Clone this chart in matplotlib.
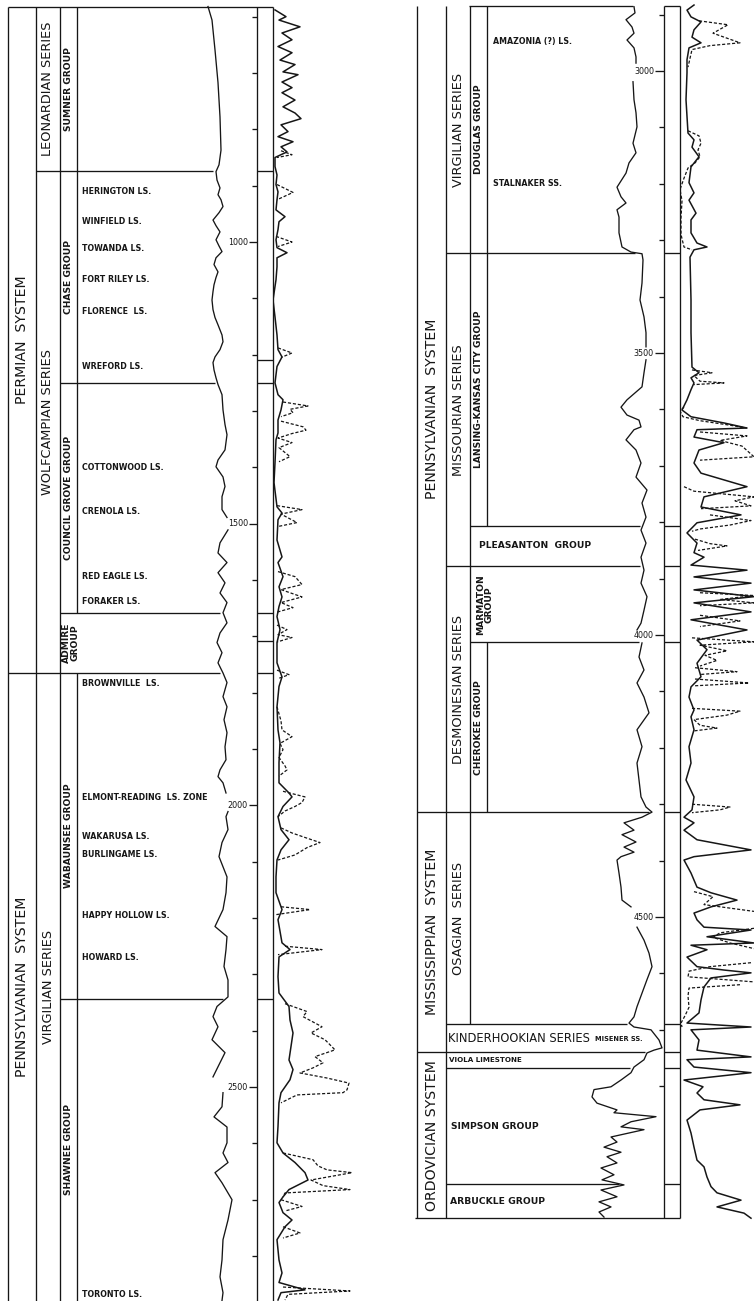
import numpy as np
import matplotlib
matplotlib.use("Agg")
import matplotlib.pyplot as plt

plt.rcParams['font.family'] = ['DejaVu Sans']
NAN = np.nan

# ---------------- stratigraphic units (depth in feet) ----------------
left_top, left_base = 582, 2880
right_top, right_base = 2885, 5034

left_systems = ["PERMIAN  SYSTEM", "PENNSYLVANIAN  SYSTEM"]
left_system_tops = [582, 1765]
left_system_bases = [1765, 2880]

left_series = ["LEONARDIAN SERIES", "WOLFCAMPIAN SERIES", "VIRGILIAN SERIES"]
left_series_tops = [582, 874, 1765]
left_series_bases = [874, 1765, 2880]

left_groups = ["SUMNER GROUP", "CHASE GROUP", "COUNCIL GROVE GROUP", "ADMIRE\nGROUP",
               "WABAUNSEE GROUP", "SHAWNEE GROUP"]
left_group_tops = [582, 874, 1250, 1658, 1765, 2343]
left_group_bases = [874, 1250, 1658, 1765, 2343, 2880]

left_formations = ["HERINGTON LS.", "WINFIELD LS.", "TOWANDA LS.", "FORT RILEY LS.",
                   "FLORENCE  LS.", "WREFORD LS.", "COTTONWOOD LS.", "CRENOLA LS.",
                   "RED EAGLE LS.", "FORAKER LS.", "BROWNVILLE  LS.",
                   "ELMONT-READING  LS. ZONE", "WAKARUSA LS.", "BURLINGAME LS.",
                   "HAPPY HOLLOW LS.", "HOWARD LS.", "TORONTO LS."]
left_formation_depths = [911, 964, 1012, 1067, 1124, 1221, 1401, 1479, 1594, 1639, 1784,
                         1986, 2056, 2088, 2196, 2270, 2869]

left_boundary_depths = [874, 1250, 1658, 1765, 2343]
left_boundary_level = ["series", "group", "group", "system", "group"]
left_track_marks = [874, 1209, 1250, 1658, 1708, 1765, 2343]

right_systems = ["PENNSYLVANIAN  SYSTEM", "MISSISSIPPIAN  SYSTEM", "ORDOVICIAN SYSTEM"]
right_system_tops = [2885, 4314, 4740]
right_system_bases = [4314, 4740, 5034]

right_series = ["VIRGILIAN SERIES", "MISSOURIAN SERIES", "DESMOINESIAN SERIES", "OSAGIAN  SERIES"]
right_series_tops = [2885, 3323, 3878, 4314]
right_series_bases = [3323, 3878, 4314, 4690]

right_groups = ["DOUGLAS GROUP", "LANSING-KANSAS CITY GROUP", "MARMATON\nGROUP", "CHEROKEE GROUP"]
right_group_tops = [2885, 3323, 3878, 4013]
right_group_bases = [3323, 3806, 4013, 4314]

right_flat_units = ["PLEASANTON  GROUP", "KINDERHOOKIAN SERIES", "VIOLA LIMESTONE",
                    "SIMPSON GROUP", "ARBUCKLE GROUP"]
right_flat_tops = [3806, 4690, 4740, 4768, 4974]
right_flat_bases = [3878, 4740, 4768, 4974, 5034]

right_formations = ["AMAZONIA (?) LS.", "STALNAKER SS.", "MISENER SS."]
right_formation_depths = [2947, 3200, 4716]

right_boundary_depths = [3323, 3806, 3878, 4013, 4314, 4690, 4740, 4768, 4974]
right_boundary_level = ["series", "group", "series", "group", "system", "series", "system",
                        "series", "series"]
right_track_marks = [3323, 3806, 3878, 4013, 4314, 4690, 4740, 4768, 4974]

left_depth_labels = [1000, 1500, 2000, 2500]
right_depth_labels = [3000, 3500, 4000, 4500]

# ---------------- log curves (depth ft, deflection in track units) ----------------
left_sp_depth = [
    582, 606, 659, 717, 778, 837, 863, 875, 890, 904,
    916, 925, 937, 948, 961, 971, 982, 996, 1007, 1017,
    1028, 1040, 1053, 1063, 1076, 1088, 1103, 1120, 1134, 1147,
    1165, 1177, 1191, 1204, 1214, 1227, 1241, 1253, 1271, 1298,
    1324, 1342, 1369, 1387, 1399, 1417, 1434, 1452, 1475, 1489,
    NAN,
    1511, 1534, 1552, 1569, 1587, 1605, 1623, 1640, 1658, 1676,
    1694, 1711, 1729, 1747, 1765, 1782, 1807, 1825, 1848, 1871,
    1896, 1919, 1937, 1949, 1960, 1978,
    NAN,
    2011, 2020, 2043, 2066, 2091, 2127, 2155, 2185, 2215, 2233,
    2256, 2286, 2310, 2340, 2357, 2375, 2393, 2416, 2439, 2464,
    2482,
    NAN,
    2510, 2535, 2553, 2571, 2599, 2617, 2634, 2652, 2670, 2700,
    2736, 2771, 2807, 2837, 2865, 2879]
left_sp_value = [
    8, 12, 15, 18, 20, 21, 19, 16, 17, 20,
    18, 21, 23, 19, 13, 16, 20, 16, 19, 22,
    16, 14, 18, 16, 14, 13, 12, 13, 15, 18,
    22, 23, 20, 15, 13, 14, 16, 18, 22, 23,
    25, 27, 25, 18, 16, 23, 25, 22, 22, 27,
    NAN,
    28, 20, 18, 27, 18, 25, 20, 27, 23, 27,
    20, 17, 22, 18, 23, 27, 23, 27, 24, 27,
    25, 26, 20, 18, 23, 26,
    NAN,
    28, 26, 28, 22, 19, 27, 26, 23, 15, 27,
    26, 24, 28, 28, 17, 13, 18, 12, 25, 18,
    13,
    NAN,
    23, 22, 14, 27, 27, 23, 28, 15, 22, 32,
    28, 23, 22, 20, 23, 22]

left_res_depth = [
    588, 600, 606, 618, 629, 641, 653, 664, 677, 685,
    698, 703, 716, 726, 735, 748, 760, 771, 781, 792,
    804, 813, 822, 831, 840, 850, 866, 881, 898, 911,
    925, 943, 955, 964, 978, 996, 1010, 1019, 1028, 1044,
    1067, 1103, 1133, 1165, 1191, 1204, 1221, 1250, 1271, 1280,
    1298, 1316, 1339, 1351, 1392, 1427, 1470, 1481, 1493, 1529,
    1559, 1569, 1594, 1612, 1630, 1647, 1665, 1688, 1711, 1747,
    1772, 1789, 1825, 1866, 1889, 1924, 1960, 1978, 1985, 2002,
    2020, 2043, 2061, 2079, 2097, 2127, 2155, 2185, 2203, 2244,
    2256, 2269, 2304, 2333, 2357, 2381, 2404, 2428, 2452, 2469,
    2487, 2510, 2528, 2570, 2599, 2617, 2634, 2652, 2665, 2682,
    2695, 2705, 2723, 2736, 2748, 2771, 2807, 2830, 2847, 2860,
    2865, 2878]
left_res_value = [
    2, 13, 6, 27, 9, 19, 5, 19, 7, 22,
    10, 25, 9, 19, 9, 22, 10, 22, 28, 8,
    15, 5, 20, 8, 14, 2, 2, 4, 3, 5,
    4, 3, 12, 6, 5, 3, 4, 14, 4, 4,
    3, 0, 2, 4, 5, 9, 4, 2, 5, 10,
    8, 5, 5, 3, 2, 1, 4, 9, 5, 4,
    9, 5, 10, 6, 9, 6, 4, 7, 4, 4,
    9, 6, 4, 5, 7, 6, 6, 16, 19, 10,
    5, 8, 16, 8, 4, 3, 3, 9, 5, 9,
    17, 6, 5, 6, 16, 17, 20, 18, 16, 20,
    17, 8, 6, 5, 4, 10, 22, 32, 35, 16,
    10, 6, 10, 19, 12, 4, 6, 9, 6, 32,
    8, 5]

left_res2_depth = [
    838, 845, 850, NAN,
    898, 912, 925, NAN,
    990, 1000, 1008, NAN,
    1188, 1197, 1205, NAN,
    1284, 1291, 1297, 1303, 1310, NAN,
    1318, 1328, 1334, 1340, 1348, 1356, 1365, 1381, 1390, NAN,
    1468, 1475, 1483, 1498, 1505, NAN,
    1585, 1594, 1608, 1617, 1630, 1640, 1649, 1657, NAN,
    1680, 1688, 1697, 1702, 1710, NAN,
    1760, 1768, 1775, NAN,
    1825, 1850, 1866, 1878, 1890, 1901, 1915, 1930, 1937, 1948, NAN,
    1975, 1985, 1995, 2002, 2010, 2020, NAN,
    2040, 2049, 2057, 2066, 2075, 2088, 2097, NAN,
    2180, 2185, 2194, NAN,
    2250, 2256, 2265, NAN,
    2352, 2366, 2375, 2393, 2404, 2416, 2434, 2446, 2457, 2466, 2475, 2484, 2493, 2505,
    2510, 2514, 2528, NAN,
    2617, 2629, 2640, 2647, 2652, 2658, 2665, 2675, 2682, 2688, 2695, NAN,
    2700, 2712, 2720, NAN,
    2748, 2759, 2768, NAN,
    2855, 2862, 2868, 2878]
left_res2_value = [
    8, 19, 4, NAN,
    4, 20, 4, NAN,
    3, 19, 5, NAN,
    5, 19, 8, NAN,
    10, 35, 17, 20, 8, NAN,
    8, 30, 33, 19, 5, 19, 6, 17, 6, NAN,
    4, 29, 8, 24, 5, NAN,
    5, 22, 29, 8, 29, 8, 20, 4, NAN,
    4, 14, 5, 19, 4, NAN,
    4, 16, 5, NAN,
    4, 8, 9, 19, 7, 10, 6, 12, 14, 6, NAN,
    10, 32, 29, 22, 12, 5, NAN,
    8, 19, 32, 47, 34, 22, 5, NAN,
    8, 37, 3, NAN,
    12, 49, 5, NAN,
    12, 34, 30, 49, 38, 52, 62, 42, 50, 40, 27, 54, 76, 74,
    70, 24, 8, NAN,
    10, 40, 45, 54, 79, 60, 38, 50, 77, 12, 10, NAN,
    8, 29, 12, NAN,
    10, 27, 10, NAN,
    10, 77, 15, 12]

right_sp_depth = [
    2886, 2897, 2909, 2922, 2933, 2945, 2959, 2975, 2986,
    NAN,
    3019, 3051, 3074, 3099, 3128, 3145, 3163, 3181, 3206, 3223,
    3234, 3246, 3259, 3287, 3312, 3321, 3324, 3335, 3376, 3406,
    3436, 3464, 3489,
    NAN,
    3512, 3535, 3560, 3583, 3596, 3610, 3619, 3631, 3636, 3654,
    3672, 3695, 3720, 3743, 3766, 3791, 3814, 3837, 3862, 3885,
    3908, 3932, 3956, 3979, 3991,
    NAN,
    4014, 4039, 4062, 4085, 4110, 4138, 4168, 4198, 4227, 4257,
    4287, 4305, 4314, 4323, 4333, 4346, 4354, 4367, 4376, 4385,
    4393, 4399, 4422, 4447, 4470, 4482,
    NAN,
    4518, 4541, 4564, 4588, 4611, 4635, 4659, 4677, 4688, 4695,
    4700, 4718, 4732, 4736, 4741, 4753, 4766, 4776, 4789, 4801,
    4806, 4819, 4830, 4842, 4847, 4854, 4863, 4872, 4877, 4890,
    4899, 4908, 4917, 4925, 4936, 4945, 4957, 4966, 4975, 4984,
    4996, 5005, 5014, 5023, 5032]
right_sp_value = [
    54, 55, 46, 52, 54, 47, 54, 56, 56,
    NAN,
    53, 54, 56, 57, 53, 56, 49, 46, 37, 41,
    46, 37, 39, 39, 42, 51, 62, 63, 62, 60,
    64, 66, 66,
    NAN,
    66, 64, 62, 47, 41, 47, 59, 61, 54, 46,
    56, 61, 56, 67, 62, 66, 61, 66, 61, 64,
    61, 67, 64, 61, 57,
    NAN,
    62, 59, 64, 57, 64, 69, 57, 62, 57, 59,
    61, 66, 72, 62, 44, 54, 42, 56, 44, 54,
    41, 37, 39, 41, 42, 51,
    NAN,
    57, 64, 69, 72, 67, 62, 57, 54, 49, 54,
    71, 79, 82, 74, 67, 64, 54, 51, 41, 31,
    14, 12, 17, 37, 34, 76, 51, 41, 64, 31,
    37, 24, 41, 27, 37, 21, 34, 22, 44, 21,
    37, 19, 31, 19, 24]

right_res_depth = [
    2883, 2892, 2904, 2913, 2927, 2940, 2950, 2959, 2980, 3003,
    3051, 3110, 3122, 3135, 3152, 3170, 3198, 3216, 3229, 3252,
    3264, 3287, 3305, 3312, 3317, 3330, 3406, 3464, 3525, 3535,
    3544, 3553, 3565, 3583, 3601, 3613, 3624, 3633, 3636, 3649,
    3659, 3672, 3695, 3713, 3737, 3755, 3773, 3787, 3801, 3819,
    3837, 3854, 3862, 3876, 3885, 3897, 3908, 3920, 3932, 3943,
    3959, 3973, 3991, 4009, 4026, 4050, 4074, 4092, 4110, 4133,
    4145, 4168, 4198, 4227, 4257, 4287, 4310, 4323, 4333, 4346,
    4363, 4381, 4393, 4399, 4422, 4447, 4457, 4470, 4482, 4493,
    4505, 4518, 4523, 4535, 4546, 4550, 4558, 4571, 4588, 4594,
    4599, 4608, 4624, 4647, 4670, 4688, 4695, 4700, 4718, 4736,
    4748, 4753, 4766, 4776, 4789, 4801, 4812, 4824, 4833, 4842,
    4860, 4883, 4908, 4931, 4943, 4961, 4978, 4989, 5002, 5014,
    5025, 5034]
right_res_value = [
    14, 7, 11, 21, 14, 12, 21, 9, 7, 7,
    6, 8, 14, 12, 19, 11, 9, 14, 9, 16,
    11, 11, 17, 27, 14, 10, 11, 11, 12, 19,
    11, 14, 11, 7, 2, 11, 44, 67, 17, 14,
    44, 19, 14, 21, 67, 24, 21, 61, 17, 7,
    17, 14, 24, 11, 67, 14, 71, 14, 74, 14,
    71, 11, 67, 17, 27, 17, 21, 11, 9, 14,
    11, 14, 9, 11, 6, 14, 12, 4, 14, 4,
    17, 71, 14, 4, 11, 17, 31, 57, 31, 14,
    17, 24, 71, 27, 74, 11, 27, 7, 17, 44,
    71, 31, 24, 21, 19, 7, 71, 11, 19, 17,
    71, 7, 14, 71, 4, 23, 17, 24, 60, 20,
    7, 11, 14, 17, 24, 27, 31, 37, 61, 37,
    64, 71]

right_res2_depth = [
    2911, 2918, 2933, 2950, 2955, 2962, 2993, NAN,
    3106, 3115, 3128, 3140, 3152, 3163, 3172, 3190, 3210, 3230, 3260, 3290, 3312, 3317, NAN,
    3530, 3535, 3540, 3550, 3553, 3556, NAN,
    3596, 3603, 3613, 3620, 3628, 3633, NAN,
    3640, 3647, 3655, 3665, 3684, 3690, NAN,
    3737, 3745, 3755, 3762, 3771, 3776, NAN,
    3787, 3797, 3805, 3812, 3816, NAN,
    3830, 3838, 3842, 3850, NAN,
    3925, 3930, 3937, 3943, 3948, NAN,
    3965, 3975, 3980, 3985, NAN,
    4005, 4012, 4018, 4028, 4036, 4045, 4055, NAN,
    4058, 4065, 4070, NAN,
    4078, 4085, 4090, NAN,
    4130, 4135, 4142, 4150, 4160, 4165, 4170, NAN,
    4300, 4305, 4310, 4315, NAN,
    4455, 4464, 4478, 4490, NAN,
    4520, 4528, 4536, 4546, 4556, NAN,
    4581, 4588, 4596, 4606, 4615, NAN,
    4620, 4626, 4640, 4660, 4675, 4688, 4695]
right_res2_value = [
    19, 48, 33, 60, 30, 12, 8, NAN,
    8, 19, 21, 18, 20, 15, 8, 4, 0, 2, 1, 1, 4, 12, NAN,
    12, 32, 14, 20, 44, 14, NAN,
    4, 0, 3, 20, 50, 67, NAN,
    20, 67, 40, 62, 74, 20, NAN,
    4, 14, 74, 55, 71, 21, NAN,
    30, 71, 50, 20, 12, NAN,
    15, 30, 47, 18, NAN,
    20, 74, 40, 74, 20, NAN,
    20, 60, 40, 20, NAN,
    12, 74, 20, 47, 25, 37, 20, NAN,
    15, 57, 20, NAN,
    15, 69, 15, NAN,
    12, 60, 47, 14, 20, 37, 14, NAN,
    12, 50, 40, 12, NAN,
    14, 33, 24, 74, NAN,
    74, 40, 33, 50, 74, NAN,
    71, 30, 9, 8, 74, NAN,
    60, 9, 8, 9, 5, 1, 2]

# ---------------- figure ----------------
FW, FH = 754.0, 1301.0
INK = '#161616'
LW = 0.95
fig = plt.figure(figsize=(FW / 100, FH / 100), dpi=100)
fig.patch.set_facecolor('white')

L_YLIM = (2879.8, 570.4)
R_YLIM = (5180.8, 2874.1)


def make_axes(x0, w, ylim):
    ax = fig.add_axes([x0 / FW, 0, w / FW, 1])
    ax.set_xlim(0, w)
    ax.set_ylim(*ylim)
    ax.axis('off')
    ax.patch.set_alpha(0)
    return ax


axL = make_axes(0, 377, L_YLIM)
axR = make_axes(377, 377, R_YLIM)
spL = make_axes(200, 50, L_YLIM)
resL = make_axes(273, 104, L_YLIM)
spR = make_axes(580, 90, R_YLIM)
resR = make_axes(680, 74, R_YLIM)

line_kw = dict(colors=INK, linewidth=LW)

# ---- curves ----
spL.plot(left_sp_value, left_sp_depth, color=INK, lw=0.95)
spR.plot(right_sp_value, right_sp_depth, color=INK, lw=0.95)
resL.plot(left_res_value, left_res_depth, color=INK, lw=1.1)
resL.plot(left_res2_value, left_res2_depth, color=INK, lw=0.9, ls=(0, (2.5, 1.5)))
resR.plot(right_res_value, right_res_depth, color=INK, lw=1.1)
resR.plot(right_res2_value, right_res2_depth, color=INK, lw=0.9, ls=(0, (2.5, 1.5)))


def sp_edge(depth, depths, values, offset):
    d = np.array(depths, float)
    v = np.array(values, float)
    m = ~np.isnan(d)
    return offset + np.interp(depth, d[m], v[m]) - 3


# ---- left panel frame ----
axL.vlines([8, 36, 60, 257, 273], left_top, left_base + 20, **line_kw)
admire = left_groups.index("ADMIRE\nGROUP")
axL.vlines(77, left_top, left_group_tops[admire], **line_kw)
axL.vlines(77, left_group_bases[admire], left_base + 20, **line_kw)
axL.hlines(left_top, 8, 273, **line_kw)
left_start = {"system": 8, "series": 36, "group": 60}
for d, lev in zip(left_boundary_depths, left_boundary_level):
    axL.hlines(d, left_start[lev], sp_edge(d, left_sp_depth, left_sp_value, 200), **line_kw)
for d in left_track_marks:
    axL.hlines(d, 257, 273, **line_kw)
for d in range(600, 2900, 100):
    if d in left_depth_labels:
        axL.hlines(d, 249, 257, **line_kw)
        axL.text(248, d, str(d), ha='right', va='center', fontsize=5.8, color=INK)
    else:
        axL.hlines(d, 252, 257, **line_kw)

# ---- right panel frame ----
axR.vlines([40, 69, 287, 303], right_top, right_base, **line_kw)
osag = right_series.index("OSAGIAN  SERIES")
axR.vlines(93, right_top, right_series_bases[osag], **line_kw)
lkc = right_groups.index("LANSING-KANSAS CITY GROUP")
cher = right_groups.index("CHEROKEE GROUP")
axR.vlines(110, right_top, right_group_bases[lkc], **line_kw)
axR.vlines(110, right_group_tops[cher], right_group_bases[cher], **line_kw)
axR.hlines(right_top, 92, 256, **line_kw)
axR.hlines(right_top, 287, 303, **line_kw)
axR.hlines(right_base, 38, 303, **line_kw)
right_start = {"system": 40, "series": 69, "group": 93}
for d, lev in zip(right_boundary_depths, right_boundary_level):
    axR.hlines(d, right_start[lev], sp_edge(d, right_sp_depth, right_sp_value, 203), **line_kw)
for d in right_track_marks:
    axR.hlines(d, 287, 303, **line_kw)
for d in range(2900, 4900, 100):
    if d in right_depth_labels:
        axR.hlines(d, 278, 287, **line_kw)
        axR.text(277, d, str(d), ha='right', va='center', fontsize=5.8, color=INK)
    else:
        axR.hlines(d, 282, 287, **line_kw)

# ---- text ----
def rot_labels(ax, names, tops, bases, x, size, weight):
    for n, t, b in zip(names, tops, bases):
        ax.text(x, (t + b) / 2, n, rotation=90, ha='center', va='center',
                fontsize=size, fontweight=weight, color=INK, linespacing=1.0,
                multialignment='center')


rot_labels(axL, left_systems, left_system_tops, left_system_bases, 22, 10.2, 'normal')
rot_labels(axL, left_series, left_series_tops, left_series_bases, 48, 9.3, 'normal')
rot_labels(axL, left_groups[:3], left_group_tops[:3], left_group_bases[:3], 68.5, 6.6, 'bold')
rot_labels(axL, left_groups[3:4], left_group_tops[3:4], left_group_bases[3:4], 71, 6.6, 'bold')
rot_labels(axL, left_groups[4:], left_group_tops[4:], left_group_bases[4:], 68.5, 6.6, 'bold')
for n, d in zip(left_formations, left_formation_depths):
    axL.text(82, d, n, ha='left', va='center', fontsize=5.7, fontweight='bold', color=INK)

rot_labels(axR, right_systems, right_system_tops, right_system_bases, 54.5, 10.2, 'normal')
rot_labels(axR, right_series, right_series_tops, right_series_bases, 81, 9.3, 'normal')
rot_labels(axR, right_groups[:2], right_group_tops[:2], right_group_bases[:2], 101.5, 6.6, 'bold')
rot_labels(axR, right_groups[2:3], right_group_tops[2:3], right_group_bases[2:3], 108, 6.6, 'bold')
rot_labels(axR, right_groups[3:], right_group_tops[3:], right_group_bases[3:], 101.5, 6.6, 'bold')

flat_x = [102, 71, 72, 74, 73]
flat_size = [6.6, 8.3, 5.1, 6.6, 6.7]
flat_weight = ['bold', 'normal', 'bold', 'bold', 'bold']
for n, t, b, x, s, w in zip(right_flat_units, right_flat_tops, right_flat_bases,
                            flat_x, flat_size, flat_weight):
    axR.text(x, (t + b) / 2, n, ha='left', va='center', fontsize=s, fontweight=w, color=INK)

form_x = [116, 116, 218]
form_size = [5.7, 5.7, 4.8]
for n, d, x, s in zip(right_formations, right_formation_depths, form_x, form_size):
    axR.text(x, d, n, ha='left', va='center', fontsize=s, fontweight='bold', color=INK)

fig.savefig('out.png', dpi=100, facecolor='white')
